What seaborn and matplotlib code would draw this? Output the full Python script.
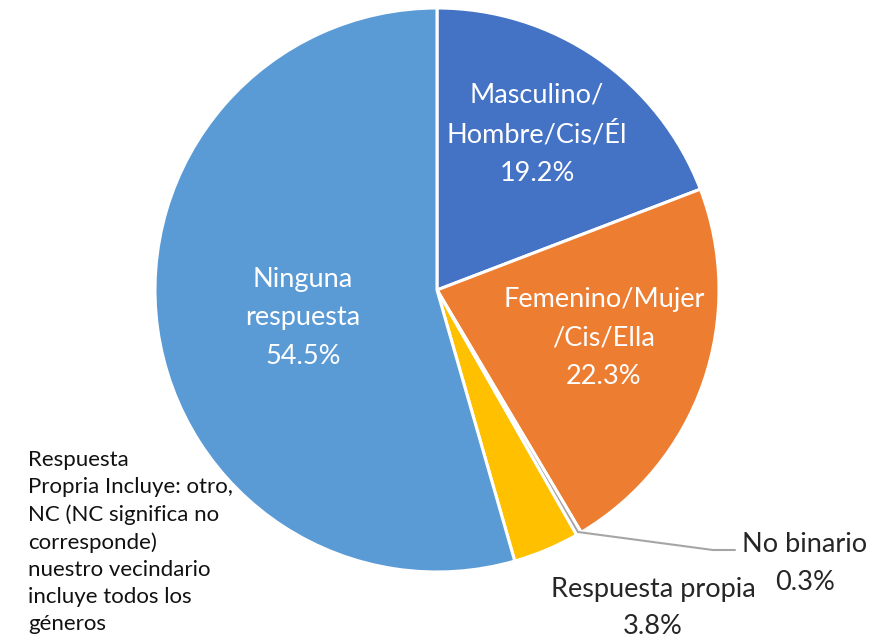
import matplotlib
matplotlib.use("Agg")
import matplotlib.pyplot as plt
import seaborn as sns

sns.set_style("white")
plt.rcParams['font.family'] = ['Lato', 'DejaVu Sans']

categories = ["Masculino/\nHombre/Cis/Él", "Femenino/Mujer\n/Cis/Ella", "No binario",
              "Respuesta propia", "Ninguna\nrespuesta"]
values = [19.2, 22.3, 0.3, 3.8, 54.5]
pct_labels = ["19.2%", "22.3%", "0.3%", "3.8%", "54.5%"]
colors = ["#4472C4", "#ED7D31", "#A5A5A5", "#FFC000", "#5B9BD5"]
note = ("Respuesta\nPropria Incluye: otro,\nNC (NC significa no\ncorresponde)\n"
        "nuestro vecindario\nincluye todos los\ngéneros")

W, H = 874, 642
fig = plt.figure(figsize=(W / 100, H / 100), dpi=100)
cx, cy, r = 437, 290, 282
ax = fig.add_axes([(cx - r) / W, (H - cy - r) / H, 2 * r / W, 2 * r / H])
ax.pie(values, colors=colors, startangle=90, counterclock=False,
       wedgeprops=dict(edgecolor="white", linewidth=2.2))
ax.set_xlim(-1, 1)
ax.set_ylim(-1, 1)
ax.set_aspect("equal")
ax.axis("off")

def px(x, y):
    return ((x - cx) / r, (cy - y) / r)

fs = 19.5
ls = 1.65
# inside labels
inside = {0: (537, 134), 1: (604, 338), 4: (303, 318)}
for i, (x, y) in inside.items():
    ax.text(*px(x, y), categories[i] + "\n" + pct_labels[i], ha="center", va="center",
            color="white", fontsize=fs, linespacing=ls)

# outside labels
ax.text(*px(805, 564), categories[2] + "\n" + pct_labels[2], ha="center", va="center",
        color="#262626", fontsize=fs, linespacing=ls)
ax.text(*px(653, 608), categories[3] + "\n" + pct_labels[3], ha="center", va="center",
        color="#262626", fontsize=fs, linespacing=ls)

# leader line for No binario
lx, ly = zip(px(578, 532), px(713, 550), px(735, 550))
ax.plot(lx, ly, color="#A5A5A5", lw=1.5, clip_on=False)

fig.text(28 / W, 1 - 450 / H, note, ha="left", va="top", fontsize=16,
         color="#111111", linespacing=1.44)

fig.savefig("out.png", dpi=100)
